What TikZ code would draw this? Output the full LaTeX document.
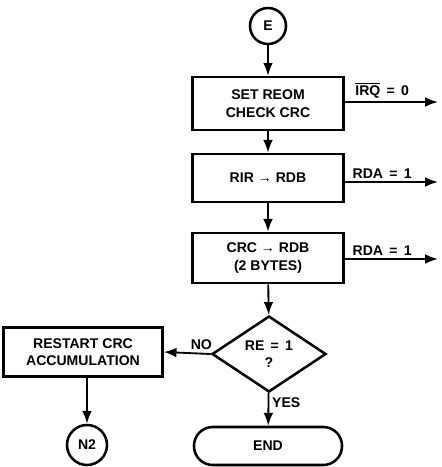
\documentclass[tikz,border=0pt]{standalone}
\usepackage{fontspec}
\setmainfont{Liberation Sans}
\usetikzlibrary{positioning,arrows.meta,shapes.geometric}
\tikzset{
  box/.style={draw=black, line width=1.8pt, align=center, font=\fontsize{10}{12.5}\selectfont\bfseries, minimum width=3.78cm, minimum height=1.25cm, inner sep=2pt},
  dec/.style={box, diamond, minimum width=2.85cm, minimum height=1.9cm, inner sep=0pt},
  term/.style={box, rounded corners=4.7mm, minimum width=3.7cm, minimum height=0.95cm},
  conn/.style={box, circle, minimum width=0.9cm, minimum height=0.9cm, inner sep=0pt},
  lbl/.style={font=\fontsize{10}{12.5}\selectfont\bfseries, inner sep=2pt},
  arr/.style={-{Latex[length=3.2mm,width=2.4mm]}, line width=1.3pt}}

\begin{document}
\begin{tikzpicture}[x=0.025cm, y=-0.025cm]
\useasboundingbox (0,0) rectangle (441,467);
\node[conn] (e) at (268,26) {E};
\node[box, minimum height=1.32cm] (reom) at (268,103.5) {SET REOM\\CHECK CRC};
\node[box, minimum height=1.2cm] (rir) at (268,178) {RIR → RDB};
\node[box] (crc) at (268,258) {CRC → RDB\\(2 BYTES)};
\node[dec] (re) at (269,354) {RE \,=\, 1\\?};
\node[box, minimum width=3.97cm, minimum height=1.22cm] (restart) at (83,352) {RESTART CRC\\ACCUMULATION};
\node[conn, minimum width=1cm] (n2) at (87,445) {N2};
\node[term] (end) at (268,446) {END};
\coordinate (irq) at (438,102);
\coordinate (rda1) at (438,182);
\coordinate (rda2) at (438,259);
\draw[arr] (e) -- (reom);
\draw[arr] (reom) -- (rir);
\draw[arr] (rir) -- (crc);
\draw[arr] (crc) -- (re);
\draw[arr] (re) -- node[lbl, right, pos=0.3] {YES} (end);
\draw[arr] (re.west) -- node[lbl, above, pos=0.2] {NO} (restart.east);
\draw[arr] (restart.south -| n2) -- (n2);
\draw[arr] (reom.east |- irq) -- node[lbl, above, pos=0.4] {$\overline{\mbox{IRQ}}$ \,=\, 0} (irq);
\draw[arr] (rir.east |- rda1) -- node[lbl, above, pos=0.4] {RDA \,=\, 1} (rda1);
\draw[arr] (crc.east |- rda2) -- node[lbl, above, pos=0.4] {RDA \,=\, 1} (rda2);
\end{tikzpicture}
\end{document}
